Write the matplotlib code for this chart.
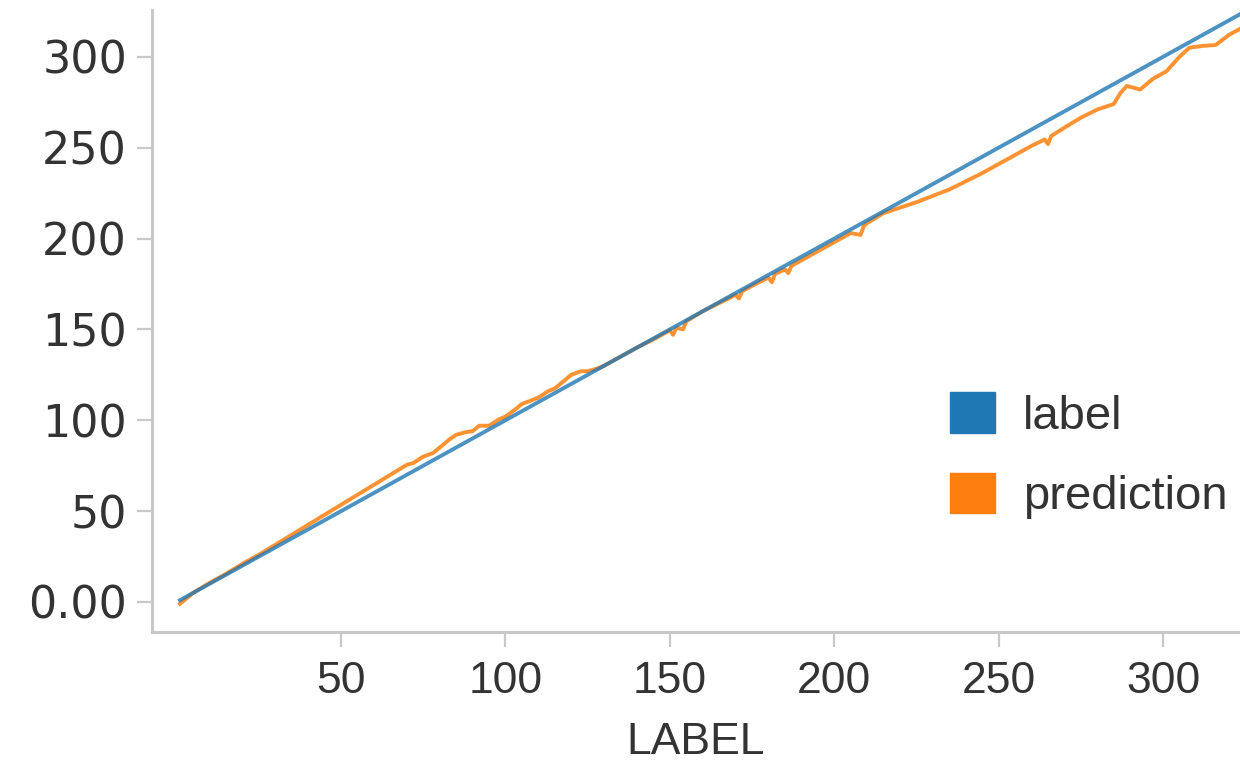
import matplotlib.pyplot as plt
import matplotlib.patches as mpatches

# label (x) and the model's prediction
label = [1, 5, 10, 15, 20, 25, 30, 35, 40, 45, 50, 55, 60, 65, 70, 72, 75,
         78, 80, 83, 85, 87, 88, 90, 92, 95, 98, 100, 103, 105, 108, 110,
         113, 115, 118, 120, 123, 125, 128, 130, 135, 140, 145, 150, 151,
         152, 154, 155, 160, 165, 170, 171, 172, 175, 180, 181, 182, 185,
         186, 187, 190, 195, 200, 205, 208, 209, 210, 215, 220, 225, 230,
         235, 240, 245, 250, 255, 260, 264, 265, 266, 270, 275, 280, 285,
         287, 289, 291, 293, 297, 301, 305, 308, 312, 316, 320, 324, 330]
prediction = [-1, 5, 10.5, 15.5, 21, 26, 31.5, 37, 42.5, 48, 53.5, 59, 64.5,
              70, 75.5, 76.5, 80, 82, 85, 89.5, 92, 93, 93.5, 94, 97, 97,
              100.5, 102, 106, 109, 111, 112.5, 116, 117.5, 122, 125, 127,
              127, 128.5, 130, 135, 140, 144.5, 149.5, 147, 151, 150, 154.5,
              160, 164.5, 169, 167, 171, 174, 178.5, 176, 180.5, 183, 181,
              185, 188, 193, 198, 203, 202, 207, 208.5, 214, 217, 220, 223.5,
              227, 231.5, 236, 241, 246, 251, 254.5, 252, 256.5, 261, 266.5,
              271, 274, 280, 284, 283, 282, 288, 292, 300, 305, 306, 306.5,
              312, 316, 323]

x_ticks = [50, 100, 150, 200, 250, 300]
y_ticks = [0, 50, 100, 150, 200, 250, 300]
y_tick_labels = ['0.00', '50', '100', '150', '200', '250', '300']

blue = '#1f77b4'
orange = '#ff7f0e'
spine_col = '#c8c8c8'
text_col = '#333333'

fig = plt.figure(figsize=(12.4, 7.78), dpi=100)
ax = fig.add_axes([0.1226, 0.1877, 1.0 - 0.1226, 0.987 - 0.1877])

ax.plot(label, prediction, color=orange, lw=2.8, alpha=0.85, zorder=2)
ax.plot(label, label, color=blue, lw=2.8, alpha=0.8, zorder=3)

ax.set_xlim(-7.5, 323.4)
ax.set_ylim(-16.5, 325.7)

ax.spines['right'].set_visible(False)
ax.spines['top'].set_visible(False)
for s in ('left', 'bottom'):
    ax.spines[s].set_color(spine_col)
    ax.spines[s].set_linewidth(2.2)

ax.set_xticks(x_ticks)
ax.set_yticks(y_ticks)
ax.set_yticklabels(y_tick_labels)
ax.tick_params(axis='both', colors=spine_col, length=11, width=1.6,
               labelcolor=text_col)
ax.tick_params(axis='y', pad=7, labelsize=32)
ax.tick_params(axis='x', pad=10, labelsize=32)
for t in ax.get_yticklabels():
    t.set_family(['DejaVu Sans'])
for t in ax.get_xticklabels():
    t.set_family(['Liberation Sans'])

ax.set_xlabel('LABEL', fontsize=32, color=text_col,
              family=['Liberation Sans'], labelpad=14)

handles = [mpatches.Patch(color=blue, label='label'),
           mpatches.Patch(color=orange, label='prediction')]
fig.legend(handles=handles, loc='upper left',
           bbox_to_anchor=(950 / 1240, 1 - 392 / 778), frameon=False,
           prop={'family': 'Liberation Sans', 'size': 34},
           handlelength=0.95, handleheight=0.95, handletextpad=0.6,
           labelspacing=0.72, borderpad=0, borderaxespad=0,
           labelcolor=text_col)

fig.savefig('out.png', dpi=100)
